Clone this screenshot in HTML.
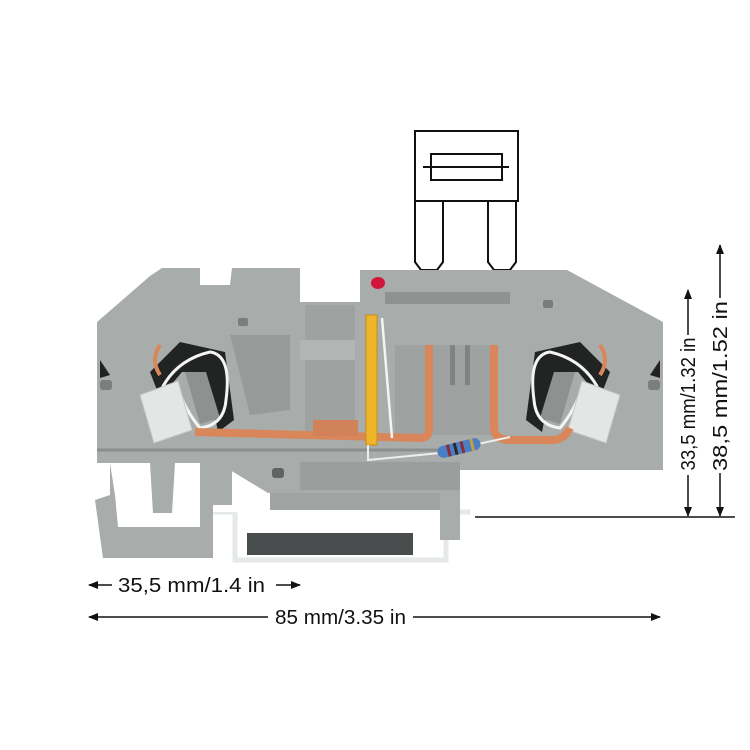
<!DOCTYPE html>
<html><head><meta charset="utf-8"><style>
html,body{margin:0;padding:0;background:#fff;}
svg{display:block;}
text{font-family:"Liberation Sans",sans-serif;fill:#111;}
</style></head><body>
<svg width="750" height="750" viewBox="0 0 750 750" xmlns="http://www.w3.org/2000/svg">
<defs>
<marker id="ah" markerWidth="10" markerHeight="8" refX="9" refY="4" orient="auto" markerUnits="userSpaceOnUse"><path d="M0,0 L10,4 L0,8 z" fill="#111"/></marker>
<g id="clamp">
  <polygon points="150,372 180,342 225,352 234,420 218,432 206,372 182,372 160,398" fill="#222424"/>
  <polygon points="185,372 206,372 220,418 200,424" fill="#8d9190"/>
  <path d="M160,392 Q175,360 210,352 Q232,355 226,400 Q224,425 200,428 Q185,410 178,388" fill="none" stroke="#f4f4f4" stroke-width="3"/>
  <polygon points="140,395 178,381 192,430 154,443" fill="#e4e6e6" stroke="#c4c7c6"/>
  <path d="M160,345 Q150,360 160,375" fill="none" stroke="#d9875a" stroke-width="4"/>
</g>
</defs>
<!-- fuse -->
<g fill="#fff" stroke="#111" stroke-width="2">
<path d="M415,201 L415,262 L421,270 L437,270 L443,262 L443,201"/>
<path d="M488,201 L488,262 L494,270 L510,270 L516,262 L516,201"/>
<rect x="415" y="131" width="103" height="70"/>
<rect x="431" y="154" width="71" height="26"/>
<line x1="423" y1="167" x2="509" y2="167"/>
</g>
<!-- DIN rail -->
<path d="M212,512 L235,512 L235,560 L446,560 L446,512 L470,512" fill="none" stroke="#e6e9e9" stroke-width="5"/>
<rect x="247" y="533" width="166" height="22" fill="#4a4d4d"/>
<!-- body -->
<polygon points="97,322 150,276 162,268 200,268 200,285 230,285 232,268 300,268 300,302 360,302 360,270 567,270 663,322 663,470 460,470 460,540 440,540 440,512 213,512 213,558 103,558 95,500 110,495 110,463 97,463" fill="#a8acab"/>
<!-- left foot inner cutout -->
<polygon points="110,463 200,463 200,527 118,527 115,495" fill="#fff"/>
<polygon points="150,463 175,463 172,513 153,513" fill="#a8acab"/>
<polygon points="213,470 230,470 268,493 440,493 440,512 213,512" fill="#fff"/>
<polygon points="213,470 232,470 232,505 213,505" fill="#a8acab"/>
<rect x="270" y="493" width="170" height="17" fill="#9fa3a2"/>
<!-- shading lines -->
<line x1="97" y1="450" x2="470" y2="450" stroke="#8b8f8e" stroke-width="3"/>
<!-- inner openings -->
<polygon points="230,335 290,335 290,410 250,415" fill="#969a99"/>
<rect x="305" y="305" width="50" height="130" fill="#9ea2a1"/>
<rect x="300" y="340" width="55" height="20" fill="#b2b5b4"/>
<rect x="385" y="292" width="125" height="12" fill="#8e9291"/>
<rect x="395" y="345" width="100" height="90" fill="#9ea2a1"/>
<rect x="450" y="345" width="5" height="40" fill="#7f8382"/>
<rect x="465" y="345" width="5" height="40" fill="#7f8382"/>
<rect x="300" y="462" width="160" height="28" fill="#9a9e9d"/>
<rect x="272" y="468" width="12" height="10" rx="3" fill="#5f6362"/>
<rect x="238" y="318" width="10" height="8" rx="2" fill="#7a7e7d"/>
<rect x="543" y="300" width="10" height="8" rx="2" fill="#7a7e7d"/>
<rect x="100" y="380" width="12" height="10" rx="3" fill="#7a7e7d"/>
<rect x="648" y="380" width="12" height="10" rx="3" fill="#7a7e7d"/>
<polygon points="100,360 110,375 100,378" fill="#222"/>
<polygon points="660,360 650,375 660,378" fill="#222"/>
<!-- clamps -->
<use href="#clamp"/>
<use href="#clamp" transform="translate(760,0) scale(-1,1)"/>
<!-- copper -->
<path d="M195,432 L420,438 Q429,438 429,430 L429,345" fill="none" stroke="#d9875a" stroke-width="8"/>
<rect x="313" y="420" width="45" height="16" fill="#d28258"/>
<path d="M494,345 L494,430 Q496,440 510,440 L555,440 Q565,438 570,428" fill="none" stroke="#d9875a" stroke-width="8"/>
<!-- yellow spring -->
<rect x="366" y="315" width="11" height="130" fill="#efb52a" stroke="#c98d10"/>
<line x1="382" y1="318" x2="392" y2="438" stroke="#f4f4f4" stroke-width="2.5"/>
<!-- LED -->
<ellipse cx="378" cy="283" rx="7" ry="6" fill="#d0173a"/>
<!-- resistor -->
<path d="M368,445 L368,460 L440,453" fill="none" stroke="#eee" stroke-width="2"/>
<line x1="478" y1="444" x2="510" y2="437" stroke="#eee" stroke-width="2"/>
<g transform="translate(459,448) rotate(-14)">
<rect x="-22" y="-6" width="44" height="12" rx="6" fill="#4a7fc4"/>
<rect x="-12" y="-6" width="3" height="12" fill="#8a2a3a"/>
<rect x="-5" y="-6" width="3" height="12" fill="#2a2a2a"/>
<rect x="2" y="-6" width="3" height="12" fill="#8a2a3a"/>
<rect x="12" y="-6" width="3" height="12" fill="#c9a040"/>
</g>
<!-- dimensions right -->
<line x1="475" y1="517" x2="735" y2="517" stroke="#111" stroke-width="1.5"/>
<line x1="688" y1="335" x2="688" y2="290" stroke="#111" stroke-width="1.5" marker-end="url(#ah)"/>
<line x1="688" y1="475" x2="688" y2="516" stroke="#111" stroke-width="1.5" marker-end="url(#ah)"/>
<line x1="720" y1="298" x2="720" y2="245" stroke="#111" stroke-width="1.5" marker-end="url(#ah)"/>
<line x1="720" y1="473" x2="720" y2="516" stroke="#111" stroke-width="1.5" marker-end="url(#ah)"/>
<text transform="translate(695,404) rotate(-90)" text-anchor="middle" font-size="20" textLength="133" lengthAdjust="spacingAndGlyphs">33,5 mm/1.32 in</text>
<text transform="translate(727,386) rotate(-90)" text-anchor="middle" font-size="20" textLength="170" lengthAdjust="spacingAndGlyphs">38,5 mm/1.52 in</text>
<!-- dimensions bottom -->
<line x1="112" y1="585" x2="89" y2="585" stroke="#111" stroke-width="1.5" marker-end="url(#ah)"/>
<line x1="276" y1="585" x2="300" y2="585" stroke="#111" stroke-width="1.5" marker-end="url(#ah)"/>
<text x="118" y="592" font-size="20" textLength="147" lengthAdjust="spacingAndGlyphs">35,5 mm/1.4 in</text>
<line x1="268" y1="617" x2="89" y2="617" stroke="#111" stroke-width="1.5" marker-end="url(#ah)"/>
<line x1="413" y1="617" x2="660" y2="617" stroke="#111" stroke-width="1.5" marker-end="url(#ah)"/>
<text x="275" y="624" font-size="20" textLength="131" lengthAdjust="spacingAndGlyphs">85 mm/3.35 in</text>
</svg>
</body></html>
